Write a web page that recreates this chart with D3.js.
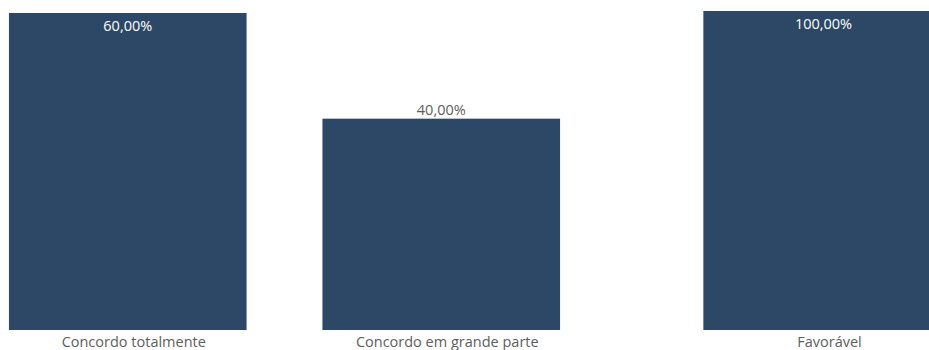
<!DOCTYPE html>
<html>
<head>
<meta charset="utf-8">
<script src="https://cdn.jsdelivr.net/npm/d3@7"></script>
<style>
  html, body { margin: 0; padding: 0; background: #fff; }
  svg { display: block; font-family: "Open Sans", "Noto Sans", sans-serif; }
</style>
</head>
<body>
<svg id="chart" width="929" height="350"></svg>
<script>
// Data: chart A (two categories) and chart B (one category), separate visuals
const categoriesA = ["Concordo totalmente", "Concordo em grande parte"];
const valuesA = [60, 40];
const categoriesB = ["Favorável"];
const valuesB = [100];

const barColor = "#2c4866";
const textGray = "#605e5c";
const fmt = v => d3.format(".2f")(v).replace(".", ",") + "%";

const svg = d3.select("#chart");
const baseY = 330;

function drawPanel(categories, values, xRange, yMax, yTop) {
  const data = categories.map((c, i) => ({ c, v: values[i] }));
  const x = d3.scaleBand().domain(categories).range(xRange)
    .paddingInner(0.242).paddingOuter(0.121);
  const y = d3.scaleLinear().domain([0, yMax]).range([baseY, yTop]);
  const g = svg.append("g");

  g.selectAll("rect").data(data).join("rect")
    .attr("x", d => x(d.c))
    .attr("y", d => y(d.v))
    .attr("width", x.bandwidth())
    .attr("height", d => baseY - y(d.v))
    .attr("fill", barColor);

  // value labels: inside if tall bar reaches top, else above
  g.selectAll("text.val").data(data).join("text")
    .attr("class", "val")
    .attr("x", d => x(d.c) + x.bandwidth() / 2)
    .attr("y", d => {
      const top = y(d.v);
      return top < 40 ? top + 17.5 : top - 3.5;
    })
    .attr("text-anchor", "middle")
    .attr("font-size", "14.5px")
    .attr("fill", d => y(d.v) < 40 ? "#ffffff" : textGray)
    .text(d => fmt(d.v));

  const axis = d3.axisBottom(x).tickSize(0).tickPadding(4);
  const ag = g.append("g").attr("transform", `translate(6,${baseY})`).call(axis);
  ag.select(".domain").remove();
  ag.selectAll("text")
    .attr("font-family", "\"Open Sans\", sans-serif")
    .attr("font-size", "14.5px")
    .attr("fill", textGray)
    .attr("dy", "0.9em");
}

drawPanel(categoriesA, valuesA, [-29, 598], d3.max(valuesA), 13);
drawPanel(categoriesB, valuesB, [665, 982], d3.max(valuesB), 11);
</script>
</body>
</html>
